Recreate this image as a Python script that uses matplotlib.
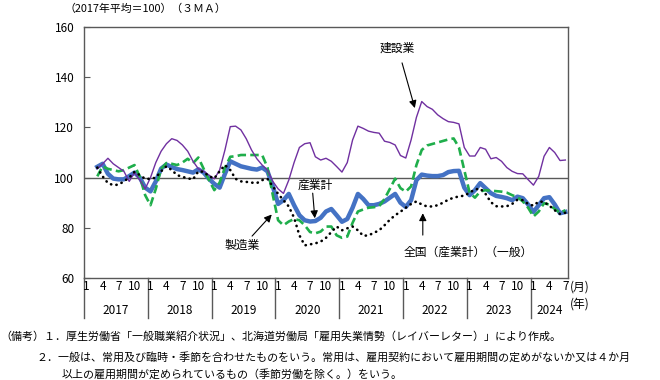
# -*- coding: utf-8 -*-
"""
Hokkaido job openings index (2017 avg = 100, 3MA), by industry.
"""
import matplotlib
matplotlib.use('Agg')
import matplotlib.pyplot as plt
import matplotlib.font_manager as fm

plt.rcParams['font.family'] = ['Noto Sans CJK JP', 'DejaVu Sans']
names = {f.name for f in fm.fontManager.ttflist}
num_font = 'Liberation Sans Narrow' if 'Liberation Sans Narrow' in names else 'Noto Sans CJK JP'

# data: Mar 2017 .. Jul 2024 (index 0 = Jan 2017)
start = 2
years = ['2017', '2018', '2019', '2020', '2021', '2022', '2023', '2024']
month_labels = ['1', '4', '7', '10']
yticks = [60, 80, 100, 120, 140, 160]

construction = [103.5, 105.5, 107.7, 105.5, 104, 102.5, 98.5, 102, 99, 95.5,
                100, 106, 110.5, 113.5, 115.5, 114.8, 113, 110.5, 106.5, 103.5,
                102.5, 101, 99.5, 103, 111, 120.3, 120.5, 119, 115.5, 111,
                107.5, 105, 103, 98.5, 95.5, 93.7, 99, 106, 112, 113.5,
                113.9, 108.3, 107, 107.7, 106.5, 104.4, 102.2, 106, 115, 120.5,
                119.6, 118.5, 118, 117.7, 114.5, 114, 113, 108.8, 107.8, 115,
                124, 130.3, 128.3, 127.2, 125, 123.5, 122.3, 122, 121.4, 112,
                108.6, 108.6, 112, 111.3, 107.5, 108, 106.5, 104, 102.5, 101.6,
                101.5, 99.2, 97, 100.5, 108.5, 112, 110, 106.8, 107]
total = [104.3, 105.5, 101.5, 99.6, 99.3, 99.3, 100.6, 102, 100, 96,
         94.5, 98.5, 103.6, 105.2, 104.2, 103.4, 103, 102.5, 102, 103.3,
         102, 99.5, 97.5, 96, 101.5, 106.5, 105.5, 104.5, 104, 103.5,
         103.2, 104, 102.5, 96.5, 89.5, 91, 93.5, 89, 85, 83,
         82.5, 82.7, 84, 86.5, 87.5, 85, 82.4, 83.5, 88, 93.5,
         91.5, 89, 89, 89.5, 90.5, 92, 93.5, 90, 88.3, 91,
         99, 101.2, 100.8, 100.6, 100.6, 101, 102.2, 102.6, 102.7, 96,
         93, 95, 97.8, 95.8, 93.8, 92.7, 92.3, 91.8, 91, 92.4,
         91.8, 89.3, 86.3, 89, 91.8, 92.2, 89.3, 85.8, 86.3]
manufacturing = [100.5, 104.5, 103.5, 103, 102.5, 103, 104, 105, 100.3, 93,
                 89, 95.5, 103.5, 105.8, 105.5, 105, 106, 107.5, 105.8, 108,
                 103.5, 99, 95, 98, 104, 108.3, 108.5, 109, 109, 109,
                 109, 109, 104, 93, 83, 81, 82.5, 83.5, 83, 81,
                 78.3, 77.8, 78.5, 80.5, 80.5, 77, 76, 76.5, 82, 86.5,
                 87.3, 88, 88.2, 88.6, 91.5, 95.5, 99.6, 95.8, 94.4, 96.5,
                 105, 111, 112.8, 113.4, 114, 114.6, 115.2, 115.6, 112, 103,
                 94, 92, 94.5, 95, 94.8, 94.6, 94.4, 94, 93, 92.2,
                 90.5, 88, 84.5, 86.5, 89.8, 89.2, 87.5, 86, 87]
national = [104, 100.5, 97.8, 97, 97.2, 98.5, 100, 102.3, 101, 99.5,
            99.5, 100, 102.5, 104.5, 103, 101, 100.3, 99.7, 99.3, 102.5,
            102.3, 100.5, 99.7, 102.5, 105, 103, 99.5, 98.5, 98.3, 98,
            97.8, 99, 99.5, 96.5, 93.5, 91, 88.5, 84, 77, 73,
            73.4, 73.8, 74.5, 76, 78.3, 80.5, 79, 79.8, 80.5, 79,
            76.8, 77, 78, 79, 81, 83.2, 85, 86.4, 88, 89.5,
            90.5, 89.3, 88.5, 88.5, 89, 90, 91.2, 92, 92.5, 92.8,
            94, 95.3, 95.6, 93.5, 90.2, 88.6, 88.5, 88.6, 89.5, 91.2,
            91, 89.5, 88.8, 90.5, 90.3, 88.8, 87, 85.5, 86]

x = list(range(start, start + len(total)))
n_slots = 91

fig = plt.figure(figsize=(6.6, 3.8), dpi=100)
ax = fig.add_axes([84 / 660, 1 - 278 / 380, 484 / 660, 251 / 380])

frame = '#595959'
ax.axhline(100, color=frame, lw=1.0, zorder=1)
ax.plot(x, total, color='#4472C4', lw=3.2, zorder=2, solid_joinstyle='round')
ax.plot(x, manufacturing, color='#1FAE4B', lw=1.9, ls=(0, (3.2, 1.6)), zorder=3)
ax.plot(x, construction, color='#7030A0', lw=1.0, zorder=3)
ax.plot(x, national, color='black', lw=1.9, ls=(0, (0.1, 2.0)),
        dash_capstyle='round', zorder=4)

ax.set_xlim(-0.5, n_slots - 0.5)
ax.set_ylim(60, 160)
ax.set_yticks(yticks)
ax.set_yticklabels([str(v) for v in yticks], fontsize=8.5, family=num_font)
ax.tick_params(axis='y', direction='in', length=4, width=0.8, color=frame, pad=7)
ax.set_xticks([])
for s in ax.spines.values():
    s.set_color(frame)
    s.set_linewidth(1.0)

# category axis: months and years under the plot
tr = ax.get_xaxis_transform()
for k, yr in enumerate(years):
    first = 12 * k
    ax.plot([first - 0.5, first - 0.5], [0, -0.16], transform=tr, color=frame,
            lw=1.0, clip_on=False)
    for j, m in enumerate(month_labels):
        idx = first + 3 * j
        if idx < n_slots:
            ax.text(idx, -0.032, m, transform=tr, ha='center', va='center',
                    fontsize=8.5, family=num_font)
    last = min(first + 12, n_slots)
    ax.text((first + last - 1) / 2, -0.131, yr, transform=tr, ha='center',
            va='center', fontsize=8.5, family=num_font)
ax.text(1.003, -0.036, '(月)', transform=ax.transAxes, ha='left', va='center', fontsize=8.5)
ax.text(1.003, -0.104, '(年)', transform=ax.transAxes, ha='left', va='center', fontsize=8.5)

# series labels
arrow = dict(arrowstyle='-|>', color='black', lw=0.8, mutation_scale=11,
             shrinkA=0, shrinkB=0)
ax.text(58.3, 151.6, '建設業', ha='center', va='center', fontsize=8.5)
ax.annotate('', xy=(61.7, 127.7), xytext=(59.3, 145.7), arrowprops=arrow)
ax.text(42.9, 96.9, '産業計', ha='center', va='center', fontsize=8.5)
ax.annotate('', xy=(42.9, 83.8), xytext=(42.5, 93.8), arrowprops=arrow)
ax.text(29.2, 73.1, '製造業', ha='center', va='center', fontsize=8.5)
ax.annotate('', xy=(34.8, 85.3), xytext=(31.1, 76.7), arrowprops=arrow)
ax.text(59.6, 70.4, '全国（産業計）（一般）', ha='left', va='center', fontsize=8.5)
ax.annotate('', xy=(63.2, 85.8), xytext=(63.2, 77.1), arrowprops=arrow)

fig.text(65 / 660, 1 - 9 / 380, '（2017年平均＝100）（３ＭＡ）', ha='left',
         va='center', fontsize=7.8)

notes = [
    (0, 336, '（備考）１．厚生労働省「一般職業紹介状況」、北海道労働局「雇用失業情勢（レイバーレター）」により作成。'),
    (36, 357, '２．一般は、常用及び臨時・季節を合わせたものをいう。常用は、雇用契約において雇用期間の定めがないか又は４か月'),
    (62, 374, '以上の雇用期間が定められているもの（季節労働を除く。）をいう。'),
]
for nx, ny, t in notes:
    fig.text(nx / 660, 1 - ny / 380, t, ha='left', va='center', fontsize=7.9)

fig.savefig('out.png', dpi=100)
